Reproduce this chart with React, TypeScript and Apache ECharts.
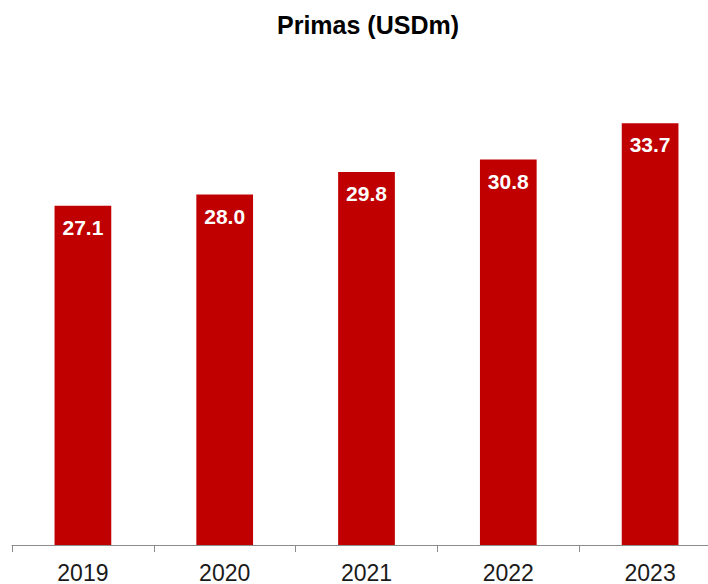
import React, { useEffect, useRef } from "react";
import * as echarts from "echarts";

const categories = ["2019", "2020", "2021", "2022", "2023"];
const primas = [27.1, 28.0, 29.8, 30.8, 33.7];
const titleText = "Primas (USDm)";

export default function App() {
  const ref = useRef<HTMLDivElement>(null);
  useEffect(() => {
    if (!ref.current) return;
    const chart = echarts.init(ref.current, null, { renderer: "svg" });
    chart.setOption({
      animation: false,
      backgroundColor: "#ffffff",
      graphic: [
        {
          type: "text",
          left: 366 - 89,
          top: 12,
          style: {
            text: titleText,
            fontFamily: "Liberation Sans, Arial, sans-serif",
            fontSize: 25,
            fontWeight: "bold",
            fill: "#000000",
          },
        },
      ],
      grid: { left: 12, right: 0, top: 107, bottom: 39 },
      xAxis: {
        type: "category",
        data: categories,
        axisLine: { show: true, lineStyle: { color: "#8c8c8c", width: 1 } },
        axisTick: { show: true, length: 7, alignWithLabel: false, lineStyle: { color: "#8c8c8c" } },
        axisLabel: {
          margin: 16,
          fontFamily: "Liberation Sans, Arial, sans-serif",
          fontSize: 23,
          color: "#1a1a1a",
        },
      },
      yAxis: {
        type: "value",
        min: 0,
        max: 35,
        show: false,
        splitLine: { show: false },
      },
      series: [
        {
          type: "bar",
          data: primas,
          barWidth: "40%",
          itemStyle: { color: "#C00000" },
          label: {
            show: true,
            position: "insideTop",
            distance: 11,
            formatter: (p: any) => Number(p.value).toFixed(1),
            fontFamily: "Liberation Sans, Arial, sans-serif",
            fontSize: 21,
            fontWeight: "bold",
            color: "#ffffff",
          },
        },
      ],
    });
    return () => chart.dispose();
  }, []);
  return (
    <div style={{ width: 708, height: 584, position: "absolute", left: 0, top: 0, overflow: "hidden" }}>
      <div ref={ref} style={{ width: 721, height: 584 }} />
    </div>
  );
}
